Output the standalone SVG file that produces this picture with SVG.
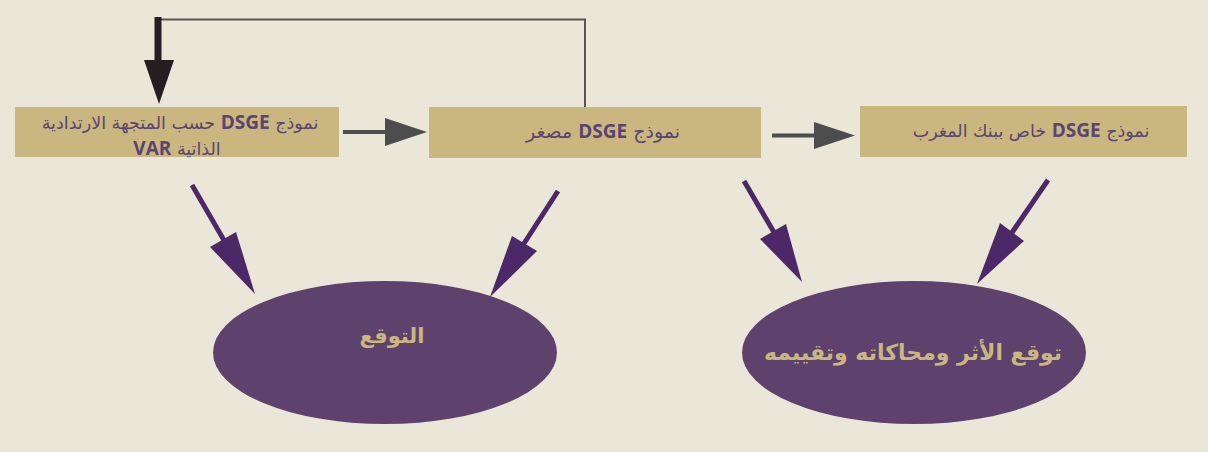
<svg xmlns="http://www.w3.org/2000/svg" width="1208" height="452" viewBox="0 0 1208 452">
<style>
.box{fill:#c9b77f}
.ell{fill:#5f416e}
.bt{font-family:"DejaVu Sans","Noto Sans",sans-serif;font-size:17.5px;fill:#5a4472;direction:rtl;text-anchor:middle}
.lat{font-family:"Open Sans","DejaVu Sans",sans-serif;font-weight:bold;font-size:19px}
.et{font-family:"DejaVu Sans","Noto Sans",sans-serif;font-weight:bold;fill:#c9b77f;direction:rtl;text-anchor:middle}
.gl{stroke:#4d4d4d;stroke-width:4;fill:none}
.pl{stroke:#4d2868;stroke-width:5;fill:none}
.ph{fill:#4d2868}
</style>
<rect x="0" y="0" width="1208" height="452" fill="#ebe7d8"/>
<g id="connectors">
<polyline points="585,107 585,19.5 158,19.5" fill="none" stroke="#555" stroke-width="2"/>
<line x1="158" y1="17" x2="158" y2="62" stroke="#231f20" stroke-width="7"/>
<polygon points="144,60 174,60 159,104" fill="#231f20"/>
<line class="gl" x1="343" y1="132" x2="388" y2="132"/>
<polygon points="385,118 427,132 385,146" fill="#4d4d4d"/>
<line class="gl" x1="772" y1="135.5" x2="817" y2="135.5"/>
<polygon points="814,122 855,135.5 814,149" fill="#4d4d4d"/>
<line class="pl" x1="192" y1="185" x2="225" y2="242"/>
<polygon class="ph" points="210,247 236,232 255,294"/>
<line class="pl" x1="558" y1="191" x2="523" y2="245"/>
<polygon class="ph" points="512,236 537,251 490,297"/>
<line class="pl" x1="744" y1="181" x2="775" y2="234"/>
<polygon class="ph" points="760,239 786,224 802,282"/>
<line class="pl" x1="1048" y1="180" x2="1011" y2="234"/>
<polygon class="ph" points="1000,223 1024,241 977,284"/>
</g>
<g id="node-var">
<rect class="box" x="15" y="107" width="324" height="50"/>
<text class="bt" x="180" y="129">نموذج <tspan class="lat">DSGE</tspan>  حسب المتجهة الارتدادية</text>
<text class="bt" x="177" y="155">الذاتية <tspan class="lat">VAR</tspan></text>
</g>
<g id="node-small">
<rect class="box" x="429" y="107" width="332" height="51"/>
<text class="bt" x="603" y="138" style="font-size:19px">نموذج <tspan class="lat">DSGE</tspan> مصغر</text>
</g>
<g id="node-bam">
<rect class="box" x="860" y="106" width="327" height="51"/>
<text class="bt" x="1031" y="137">نموذج <tspan class="lat">DSGE</tspan>  خاص ببنك المغرب</text>
</g>
<g id="node-forecast">
<ellipse class="ell" cx="385" cy="352.5" rx="172" ry="71.5"/>
<text class="et" x="392" y="343" font-size="21">التوقع</text>
</g>
<g id="node-impact">
<ellipse class="ell" cx="914" cy="352.5" rx="172" ry="71.5"/>
<text class="et" x="913" y="360" font-size="22">توقع الأثر ومحاكاته وتقييمه</text>
</g>
</svg>
